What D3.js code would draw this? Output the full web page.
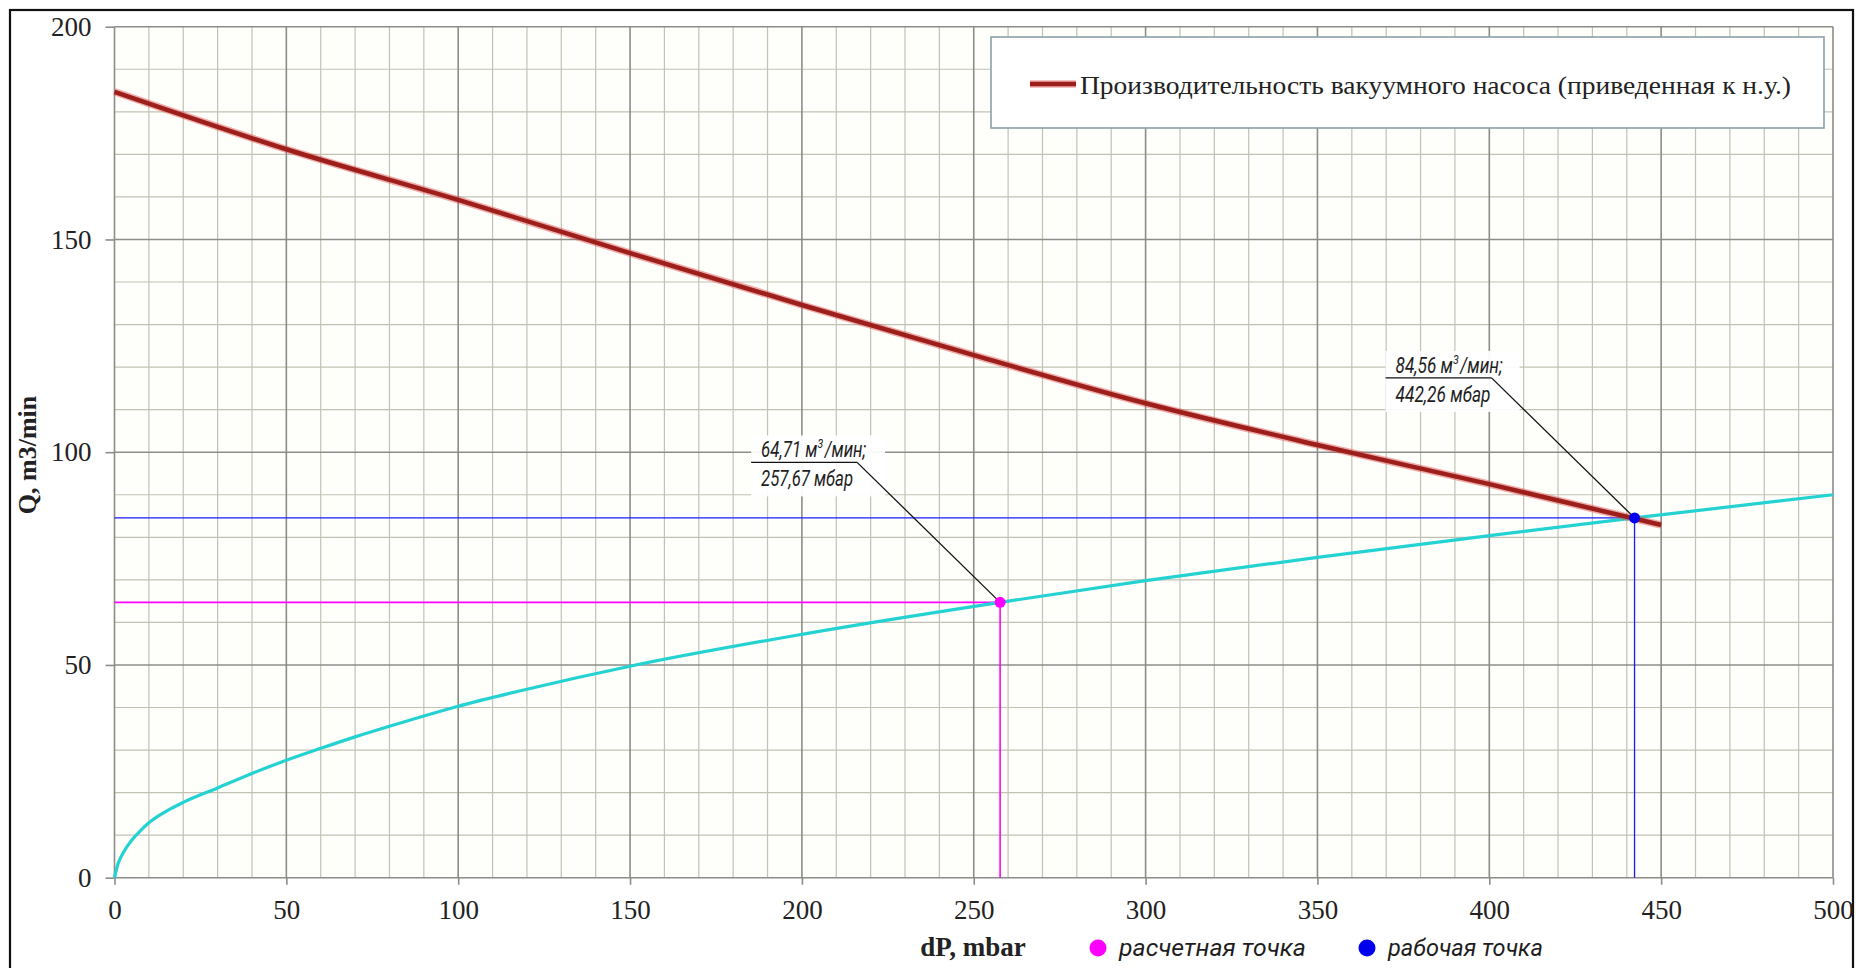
<!DOCTYPE html>
<html>
<head>
<meta charset="utf-8">
<script src="https://cdn.jsdelivr.net/npm/d3@7"></script>
<style>
  body { margin: 0; background: #fff; }
  svg { display: block; }
</style>
</head>
<body>
<svg id="chart" width="1856" height="968"></svg>
<script>
// Vacuum pump capacity (reduced to normal conditions), Q vs dP
const pumpDp = [0, 50, 100, 150, 200, 250, 300, 350, 400, 450];
const pumpQ  = [184.7, 171.2, 159.3, 146.8, 134.6, 122.8, 111.5, 101.7, 92.5, 82.9];

// System characteristic curve
const systemDp = [0, 1, 2.5, 5, 7.5, 10, 15, 20, 30, 40, 50, 60, 70, 80, 90, 100, 120, 150, 200, 257.67, 300, 350, 400, 442.26, 500];
const systemQ  = [0, 3.2, 5.8, 8.8, 11.0, 12.9, 15.6, 17.7, 21.1, 24.5, 27.6, 30.4, 33.1, 35.6, 38.0, 40.3, 44.3, 49.7, 57.2, 64.71, 69.8, 75.3, 80.4, 84.56, 90.0];

// Marked points: [dP, Q]
const designPoint  = [257.67, 64.71];
const workingPoint = [442.26, 84.56];

// Axis ticks
const xTicks = [0, 50, 100, 150, 200, 250, 300, 350, 400, 450, 500];
const yTicks = [0, 50, 100, 150, 200];

const pumpLabel    = "Производительность вакуумного насоса (приведенная к н.у.)";
const xTitle       = "dP, mbar";
const yTitle       = "Q, m3/min";
const designLabel  = "расчетная точка";
const workingLabel = "рабочая точка";

const svg = d3.select("#chart");

const x = d3.scaleLinear().domain([0, 500]).range([114.5, 1833]);
const y = d3.scaleLinear().domain([0, 200]).range([877.7, 26.7]);

// outer frame
svg.append("rect")
  .attr("x", 10).attr("y", 10).attr("width", 1843).attr("height", 1000)
  .attr("fill", "#fff").attr("stroke", "#111").attr("stroke-width", 2.2);

// plot background
svg.append("rect")
  .attr("x", x(0)).attr("y", y(200))
  .attr("width", x(500) - x(0)).attr("height", y(0) - y(200))
  .attr("fill", "#fefefa");

// grid: minor every 10, major every 50
const grid = svg.append("g");
const minorX = d3.range(0, 501, 10).filter(v => v % 50 !== 0);
const minorY = d3.range(0, 201, 10).filter(v => v % 50 !== 0);

grid.selectAll(".mx").data(minorX).join("line")
  .attr("x1", d => x(d)).attr("x2", d => x(d))
  .attr("y1", y(0)).attr("y2", y(200))
  .attr("stroke", "#c2c2b4").attr("stroke-width", 1.2);
grid.selectAll(".my").data(minorY).join("line")
  .attr("x1", x(0)).attr("x2", x(500))
  .attr("y1", d => y(d)).attr("y2", d => y(d))
  .attr("stroke", "#c2c2b4").attr("stroke-width", 1.2);
grid.selectAll(".Mx").data(xTicks).join("line")
  .attr("x1", d => x(d)).attr("x2", d => x(d))
  .attr("y1", y(0)).attr("y2", y(200))
  .attr("stroke", "#8c8c88").attr("stroke-width", 1.6);
grid.selectAll(".My").data(yTicks).join("line")
  .attr("x1", x(0)).attr("x2", x(500))
  .attr("y1", d => y(d)).attr("y2", d => y(d))
  .attr("stroke", "#8c8c88").attr("stroke-width", 1.6);

// axes
const axisFont = "'Liberation Serif', 'Times New Roman', serif";
const yAxis = svg.append("g").attr("transform", `translate(${x(0)},0)`)
  .call(d3.axisLeft(y).tickValues(yTicks).tickSize(9).tickPadding(14));
const xAxis = svg.append("g").attr("transform", `translate(0,${y(0)})`)
  .call(d3.axisBottom(x).tickValues(xTicks).tickSize(7).tickPadding(15));
[xAxis, yAxis].forEach(a => {
  a.select(".domain").remove();
  a.selectAll(".tick line").attr("stroke", "#8c8c88").attr("stroke-width", 1.6);
  a.selectAll(".tick text")
    .attr("font-family", axisFont).attr("font-size", 27).attr("fill", "#222");
});

// guide lines to the axes
const guides = svg.append("g");
[[designPoint, "#ff00ff", 1.6], [workingPoint, "#1a1aff", 1.3]].forEach(([p, c, w]) => {
  guides.append("line")
    .attr("x1", x(0)).attr("x2", x(p[0]))
    .attr("y1", y(p[1])).attr("y2", y(p[1]))
    .attr("stroke", c).attr("stroke-width", w);
  guides.append("line")
    .attr("x1", x(p[0])).attr("x2", x(p[0]))
    .attr("y1", y(p[1])).attr("y2", y(0))
    .attr("stroke", c).attr("stroke-width", w);
});

// system curve
const curveLine = d3.line()
  .x(d => x(d[0])).y(d => y(d[1]))
  .curve(d3.curveMonotoneX);
svg.append("path")
  .datum(d3.zip(systemDp, systemQ))
  .attr("d", curveLine)
  .attr("fill", "none").attr("stroke", "#25d2d2").attr("stroke-width", 3.2);

// pump capacity line
const pumpData = d3.zip(pumpDp, pumpQ);
svg.append("path")
  .datum(pumpData)
  .attr("d", curveLine)
  .attr("fill", "none").attr("stroke", "#e04848").attr("stroke-opacity", 0.45)
  .attr("stroke-width", 7.5);
svg.append("path")
  .datum(pumpData)
  .attr("d", curveLine)
  .attr("fill", "none").attr("stroke", "#9c1f1c").attr("stroke-width", 4.5);

// narrow italic text: drawn at natural width, then squeezed horizontally
const calloutFont = "'Roboto', 'DejaVu Sans Condensed', sans-serif";
function narrowText(parent, x0, baseline, parts, width, size) {
  const g = parent.append("g");
  let cx = 0;
  parts.forEach(([str, sup]) => {
    const t = g.append("text")
      .attr("x", cx).attr("y", sup ? -9 : 0)
      .attr("font-family", calloutFont).attr("font-style", "italic")
      .attr("font-size", sup ? size * 0.62 : size).attr("fill", "#1e1e1e")
      .text(str);
    cx += t.node().getComputedTextLength() + (sup ? 2 : 0);
  });
  g.attr("transform", `translate(${x0},${baseline}) scale(${width / cx},1)`);
  return g;
}

function callout(p, widths) {
  const px = x(p[0]), py = y(p[1]);
  const ax = px - 143, ay = py - 140;
  const g = svg.append("g");
  g.append("rect")
    .attr("x", ax - 106).attr("y", ay - 27).attr("width", 134).attr("height", 61)
    .attr("fill", "#fff").attr("fill-opacity", 0.93);
  g.append("line")
    .attr("x1", ax - 106).attr("x2", ax).attr("y1", ay).attr("y2", ay)
    .attr("stroke", "#111").attr("stroke-width", 1.4);
  g.append("line")
    .attr("x1", ax).attr("y1", ay).attr("x2", px).attr("y2", py)
    .attr("stroke", "#111").attr("stroke-width", 1.3);
  const q = p[1].toFixed(2).replace(".", ",");
  const dp = p[0].toFixed(2).replace(".", ",");
  narrowText(g, ax - 96, ay - 5, [[q + " м", false], ["3", true], ["/мин;", false]], widths[0], 22);
  narrowText(g, ax - 96, ay + 24, [[dp + " мбар", false]], widths[1], 22);
}
callout(designPoint, [105, 92]);
callout(workingPoint, [107, 95]);

// point markers
svg.append("circle").attr("cx", x(designPoint[0])).attr("cy", y(designPoint[1]))
  .attr("r", 5.5).attr("fill", "#ff00ff");
svg.append("circle").attr("cx", x(workingPoint[0])).attr("cy", y(workingPoint[1]))
  .attr("r", 5.5).attr("fill", "#0000ee");

// series legend
const lg = svg.append("g");
lg.append("rect")
  .attr("x", 991).attr("y", 37).attr("width", 833).attr("height", 91)
  .attr("fill", "#fff").attr("stroke", "#8aa0a8").attr("stroke-width", 1.6);
lg.append("line")
  .attr("x1", 1030).attr("x2", 1076).attr("y1", 84).attr("y2", 84)
  .attr("stroke", "#e04848").attr("stroke-opacity", 0.45).attr("stroke-width", 7.5);
lg.append("line")
  .attr("x1", 1030).attr("x2", 1076).attr("y1", 84).attr("y2", 84)
  .attr("stroke", "#9c1f1c").attr("stroke-width", 4.5);
lg.append("text")
  .attr("x", 1080).attr("y", 94)
  .attr("font-family", axisFont).attr("font-size", 26).attr("fill", "#222")
  .attr("textLength", 711).attr("lengthAdjust", "spacingAndGlyphs")
  .text(pumpLabel);

// axis titles
svg.append("text")
  .attr("x", 973).attr("y", 956).attr("text-anchor", "middle")
  .attr("font-family", axisFont).attr("font-weight", "bold").attr("font-size", 27)
  .attr("fill", "#222").text(xTitle);
svg.append("text")
  .attr("transform", "translate(36,455) rotate(-90)")
  .attr("text-anchor", "middle")
  .attr("font-family", axisFont).attr("font-weight", "bold").attr("font-size", 26)
  .attr("fill", "#222").text(yTitle);

// point legend
[[1098, "#ff00ff", designLabel, 187], [1367, "#0000ee", workingLabel, 155]].forEach(([cx, c, label, w]) => {
  svg.append("circle").attr("cx", cx).attr("cy", 948).attr("r", 8.5).attr("fill", c);
  narrowText(svg, cx + 21, 956, [[label, false]], w, 23);
});
</script>
</body>
</html>
